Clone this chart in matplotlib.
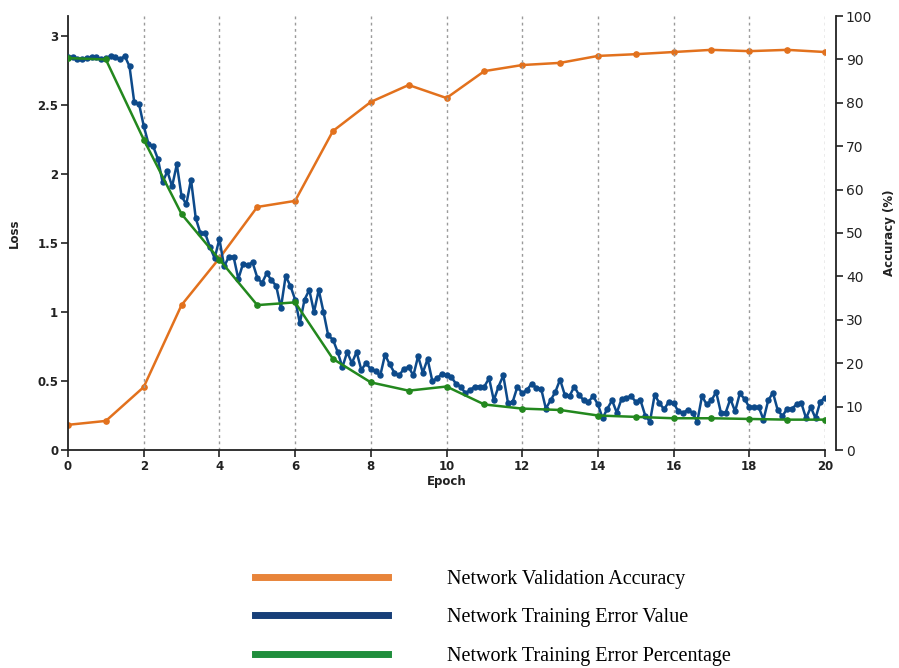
import matplotlib
matplotlib.use("Agg")
import matplotlib.pyplot as plt
from matplotlib.lines import Line2D
import numpy as np

# ---------------- data ----------------
epochs = list(range(0, 21))
val_accuracy = [5.8, 6.7, 14.5, 33.4, 44.2, 56.0, 57.4, 73.5, 80.2, 84.1, 81.1,
                87.3, 88.7, 89.2, 90.8, 91.2, 91.7, 92.2, 91.9, 92.2, 91.7]
train_err_pct = [2.84, 2.83, 2.25, 1.71, 1.38, 1.05, 1.07, 0.66, 0.49, 0.43, 0.46,
                 0.33, 0.30, 0.29, 0.25, 0.24, 0.23, 0.23, 0.225, 0.22, 0.22]

# training error value, sampled every 1/8 epoch
train_err_step = 0.125
train_err_val = [
    2.85, 2.845, 2.83, 2.83, 2.84, 2.845, 2.845, 2.83,
    2.84, 2.855, 2.85, 2.83, 2.855, 2.78, 2.52, 2.51,
    2.35, 2.22, 2.20, 2.11, 1.94, 2.02, 1.91, 2.07,
    1.84, 1.78, 1.96, 1.68, 1.57, 1.57, 1.47, 1.39,
    1.53, 1.33, 1.40, 1.40, 1.24, 1.35, 1.34, 1.36,
    1.25, 1.21, 1.28, 1.23, 1.19, 1.03, 1.26, 1.19,
    1.09, 0.92, 1.09, 1.16, 1.00, 1.16, 1.00, 0.83,
    0.80, 0.71, 0.60, 0.71, 0.63, 0.71, 0.58, 0.63,
    0.585, 0.57, 0.54, 0.69, 0.62, 0.56, 0.54, 0.59,
    0.60, 0.54, 0.68, 0.56, 0.66, 0.50, 0.52, 0.55,
    0.54, 0.53, 0.48, 0.46, 0.41, 0.435, 0.46, 0.46,
    0.46, 0.52, 0.36, 0.46, 0.54, 0.34, 0.35, 0.46,
    0.41, 0.435, 0.48, 0.45, 0.445, 0.30, 0.36, 0.42,
    0.51, 0.40, 0.39, 0.46, 0.40, 0.36, 0.35, 0.39,
    0.33, 0.23, 0.30, 0.36, 0.27, 0.37, 0.38, 0.39,
    0.35, 0.36, 0.25, 0.205, 0.40, 0.34, 0.295, 0.35,
    0.34, 0.28, 0.27, 0.29, 0.27, 0.205, 0.39, 0.33,
    0.36, 0.42, 0.27, 0.27, 0.37, 0.28, 0.41, 0.37,
    0.31, 0.31, 0.31, 0.22, 0.36, 0.415, 0.29, 0.245,
    0.30, 0.30, 0.33, 0.34, 0.23, 0.31, 0.23, 0.35,
    0.38,
]
train_err_x = np.arange(len(train_err_val)) * train_err_step

loss_ticks = [0, 0.5, 1, 1.5, 2, 2.5, 3]
loss_ticklabels = ["0", "0.5", "1", "1.5", "2", "2.5", "3"]
acc_ticks = list(range(0, 101, 10))
epoch_ticks = list(range(0, 21, 2))

labels = ["Network Validation Accuracy",
          "Network Training Error Value",
          "Network Training Error Percentage"]

# ---------------- style ----------------
c_orange = "#E2711D"
c_blue = "#0D4A8A"
c_green = "#23881E"
leg_orange = "#E8843A"
leg_blue = "#173F78"
leg_green = "#1F8E3C"

W, H = 899, 668
fig = plt.figure(figsize=(W / 100, H / 100), dpi=100)
ax = fig.add_axes([68 / W, (H - 450) / H, (825 - 68) / W, (450 - 16) / H])
ax2 = ax.twinx()

ax.set_xlim(0, 20)
ax.set_ylim(0, 3.145)
ax2.set_ylim(0, 100)

# dotted grid at even epochs
for e in epoch_ticks[1:]:
    ax.axvline(e, color="#9a9a9a", lw=1.0, ls=(0, (2, 2.5)), zorder=0)

ax2.plot(epochs, val_accuracy, color=c_orange, lw=1.8, marker="o", ms=3.8, zorder=2)
ax.plot(train_err_x, train_err_val, color=c_blue, lw=1.8, marker="o", ms=3.6, zorder=3)
ax.plot(epochs, train_err_pct, color=c_green, lw=1.8, marker="o", ms=3.8, zorder=4)
ax.set_zorder(ax2.get_zorder() + 1)
ax.patch.set_visible(False)

tick_font = dict(fontsize=8.5, fontweight="bold", color="#222222")
ax.set_xticks(epoch_ticks)
ax.set_xticklabels([str(e) for e in epoch_ticks], **tick_font)
ax.set_yticks(loss_ticks)
ax.set_yticklabels(loss_ticklabels, **tick_font)
ax2.set_yticks(acc_ticks)
ax2.set_yticklabels([str(a) for a in acc_ticks], **tick_font)

for a in (ax, ax2):
    a.spines["top"].set_visible(False)
    for s in a.spines.values():
        s.set_linewidth(1.3)
        s.set_color("#222222")
ax.spines["right"].set_visible(False)
ax2.spines["left"].set_visible(False)
ax2.spines["bottom"].set_visible(False)
ax2.spines["right"].set_position(("outward", 8))

ax.tick_params(axis="both", direction="out", length=5, width=1.2, pad=2, colors="#222222")
ax2.tick_params(axis="y", direction="out", length=5, width=1.2, pad=2, colors="#222222")

ax.set_xlabel("Epoch", fontsize=8.5, fontweight="bold", color="#222222", labelpad=2)
ax.set_ylabel("Loss", fontsize=8.5, fontweight="bold", color="#222222", labelpad=12)
ax2.set_ylabel("Accuracy (%)", fontsize=8.5, fontweight="bold", color="#222222", labelpad=8)

handles = [Line2D([], [], color=leg_orange, lw=5),
           Line2D([], [], color=leg_blue, lw=5),
           Line2D([], [], color=leg_green, lw=5)]
fig.legend(handles, labels, loc="upper left",
           bbox_to_anchor=(255 / W, 1 - 570 / H),
           frameon=False, handlelength=6.6, handletextpad=2.95,
           labelspacing=0.95, borderpad=0, borderaxespad=0,
           prop=dict(family="Liberation Serif", size=14.5))

fig.savefig("out.png", dpi=100)
